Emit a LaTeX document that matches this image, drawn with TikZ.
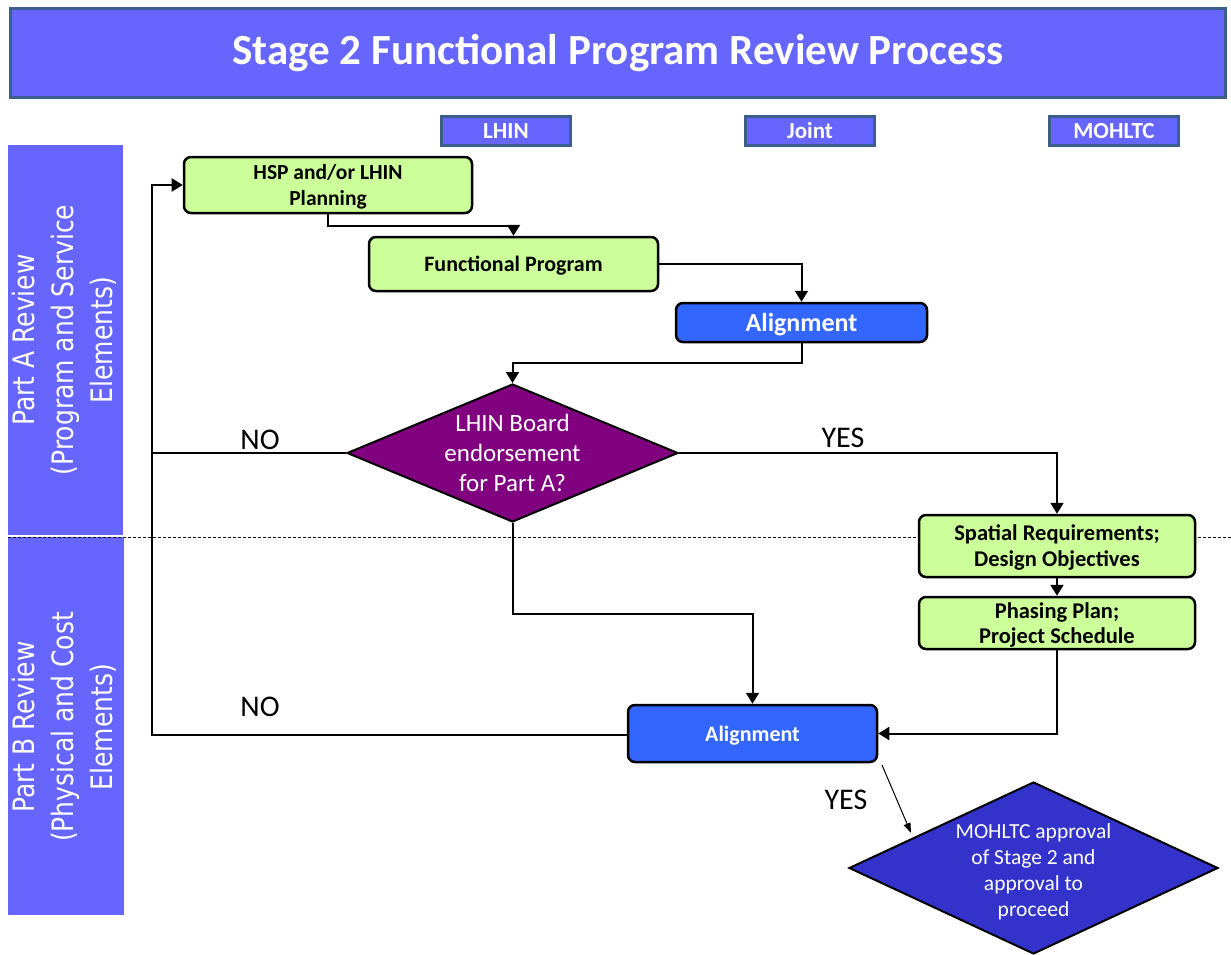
\documentclass[tikz,border=0pt]{standalone}
\usepackage{fontspec}
\usepackage{graphicx}
\setmainfont{Carlito}
\newfontfamily\lanefont{DejaVu Sans}
\usetikzlibrary{arrows.meta,shapes.geometric}
\definecolor{hdr}{HTML}{6666FF}
\definecolor{hdrb}{HTML}{3B5E8C}
\definecolor{lgreen}{HTML}{CCFF99}
\definecolor{ablue}{HTML}{3366FF}
\definecolor{purp}{HTML}{800080}
\definecolor{dblue}{HTML}{3333CC}
\tikzset{
  x=1bp, y=-1bp,
  tab/.style={draw=hdrb, line width=3bp, fill=hdr, text=white, minimum width=129bp, minimum height=29bp, inner sep=0pt, font=\fontsize{23bp}{26bp}\selectfont\bfseries},
  gbox/.style={draw=black, line width=2.5bp, fill=lgreen, rounded corners=7bp, inner sep=0pt, font=\fontsize{22bp}{26bp}\selectfont\bfseries},
  abox/.style={draw=black, line width=2.5bp, fill=ablue, rounded corners=7bp, inner sep=0pt, text=white},
  dia/.style={diamond, draw=black, line width=2bp, inner sep=0pt, text=white, align=center},
  conn/.style={draw=black, line width=2bp},
  arr/.style={conn, -{Triangle[length=11bp,width=13bp]}},
  lbl/.style={font=\fontsize{30bp}{32bp}\selectfont, inner sep=0pt},
  lanelbl/.style={text=white, align=center, rotate=90, inner sep=0pt, font=\lanefont\fontsize{25bp}{33bp}\selectfont}
}
\newcommand{\lanetext}[1]{\scalebox{1}[1.18]{\begin{tabular}{@{}c@{}}#1\end{tabular}}}
\newcommand{\lowtext}[1]{\raisebox{-2.5bp}[\height][\depth]{\begin{tabular}{@{}c@{}}#1\end{tabular}}}
\begin{document}
\begin{tikzpicture}
\useasboundingbox (0,0) rectangle (1231,955);
% title
\node[draw=hdrb, line width=3bp, fill=hdr, minimum width=1215bp, minimum height=89bp, inner sep=0pt, text=white, font=\fontsize{43bp}{48bp}\selectfont\bfseries] (title) at (618,53) {Stage 2 Functional Program Review Process};
% column tabs
\node[tab] (lhin) at (506,131) {LHIN};
\node[tab] (joint) at (810,131) {Joint};
\node[tab] (moh) at (1114,131) {MOHLTC};
% lanes
\fill[hdr] (8,145) rectangle (123,535);
\fill[hdr] (8,537) rectangle (124,915);
\node[lanelbl] (laneA) at (66,340) {\lanetext{Part A Review\\(Program and Service\\Elements)}};
\node[lanelbl] (laneB) at (66,727) {\lanetext{Part B Review\\(Physical and Cost\\Elements)}};
\draw[black, line width=0.8bp, dash pattern=on 3bp off 2bp] (8,537) -- (1231,537);
% boxes
\node[gbox, minimum width=288bp, minimum height=56bp, font=\fontsize{21.5bp}{26bp}\selectfont\bfseries] (hsp) at (328,185) {\lowtext{HSP and/or LHIN\\Planning}};
\node[gbox, minimum width=289bp, minimum height=54bp] (fp) at (513.5,264) {\lowtext{Functional Program}};
\node[abox, minimum width=251bp, minimum height=39bp, font=\fontsize{26bp}{30bp}\selectfont\bfseries] (al1) at (801.5,322.5) {\lowtext{Alignment}};
\node[dia, fill=purp, minimum width=331bp, minimum height=138bp] (d1) at (512.5,453) {};
\node[text=white, align=center, font=\fontsize{25bp}{30bp}\selectfont] (d1t) at (512.5,453) {LHIN Board\\endorsement\\for Part A?};
\node[gbox, minimum width=276bp, minimum height=62bp, font=\fontsize{22.5bp}{26bp}\selectfont\bfseries] (sp) at (1057,546) {\lowtext{Spatial Requirements;\\Design Objectives}};
\node[gbox, minimum width=276bp, minimum height=52bp, font=\fontsize{22.5bp}{25bp}\selectfont\bfseries] (ph) at (1057,623) {\lowtext{Phasing Plan;\\Project Schedule}};
\node[abox, minimum width=249bp, minimum height=57bp, font=\fontsize{22bp}{26bp}\selectfont\bfseries] (al2) at (752.5,733.5) {\lowtext{Alignment}};
\node[dia, fill=dblue, minimum width=369bp, minimum height=172bp] (d2) at (1033.5,868) {};
\node[text=white, align=center, font=\fontsize{21.5bp}{26bp}\selectfont] (d2t) at (1033.5,872) {MOHLTC approval\\of Stage 2 and\\approval to\\proceed};
% connectors
\coordinate (loopB) at (152,735);
\coordinate (loopT) at (152,185);
\coordinate (loopM) at (152,453);
\draw[arr] (al2.west |- loopB) -- (loopB) -- (loopT) -- (hsp.west);
\draw[conn] (d1.west) -- (loopM);
\draw[arr] (hsp.south) -- ++(0,12) -| (fp.north);
\draw[arr] (fp.east) -| (al1.north);
\draw[arr] (al1.south) -- ++(0,20) -| (d1.north);
\draw[arr] (d1.east) -| (sp.north);
\draw[arr] (sp.south) -- (ph.north);
\draw[arr] (ph.south) |- (al2.east);
\draw[arr] (d1.south) -- ++(0,91) -| (al2.north);
\coordinate (ys) at (882,765);
\coordinate (ye) at (911,833);
\draw[black, line width=1bp, -{Triangle[length=10bp,width=7bp]}] (ys) -- (ye);
% labels
\node[lbl] (no1) at (260,440) {NO};
\node[lbl] (yes1) at (843,438) {YES};
\node[lbl] (no2) at (260,707) {NO};
\node[lbl] (yes2) at (846,800) {YES};
\end{tikzpicture}
\end{document}
